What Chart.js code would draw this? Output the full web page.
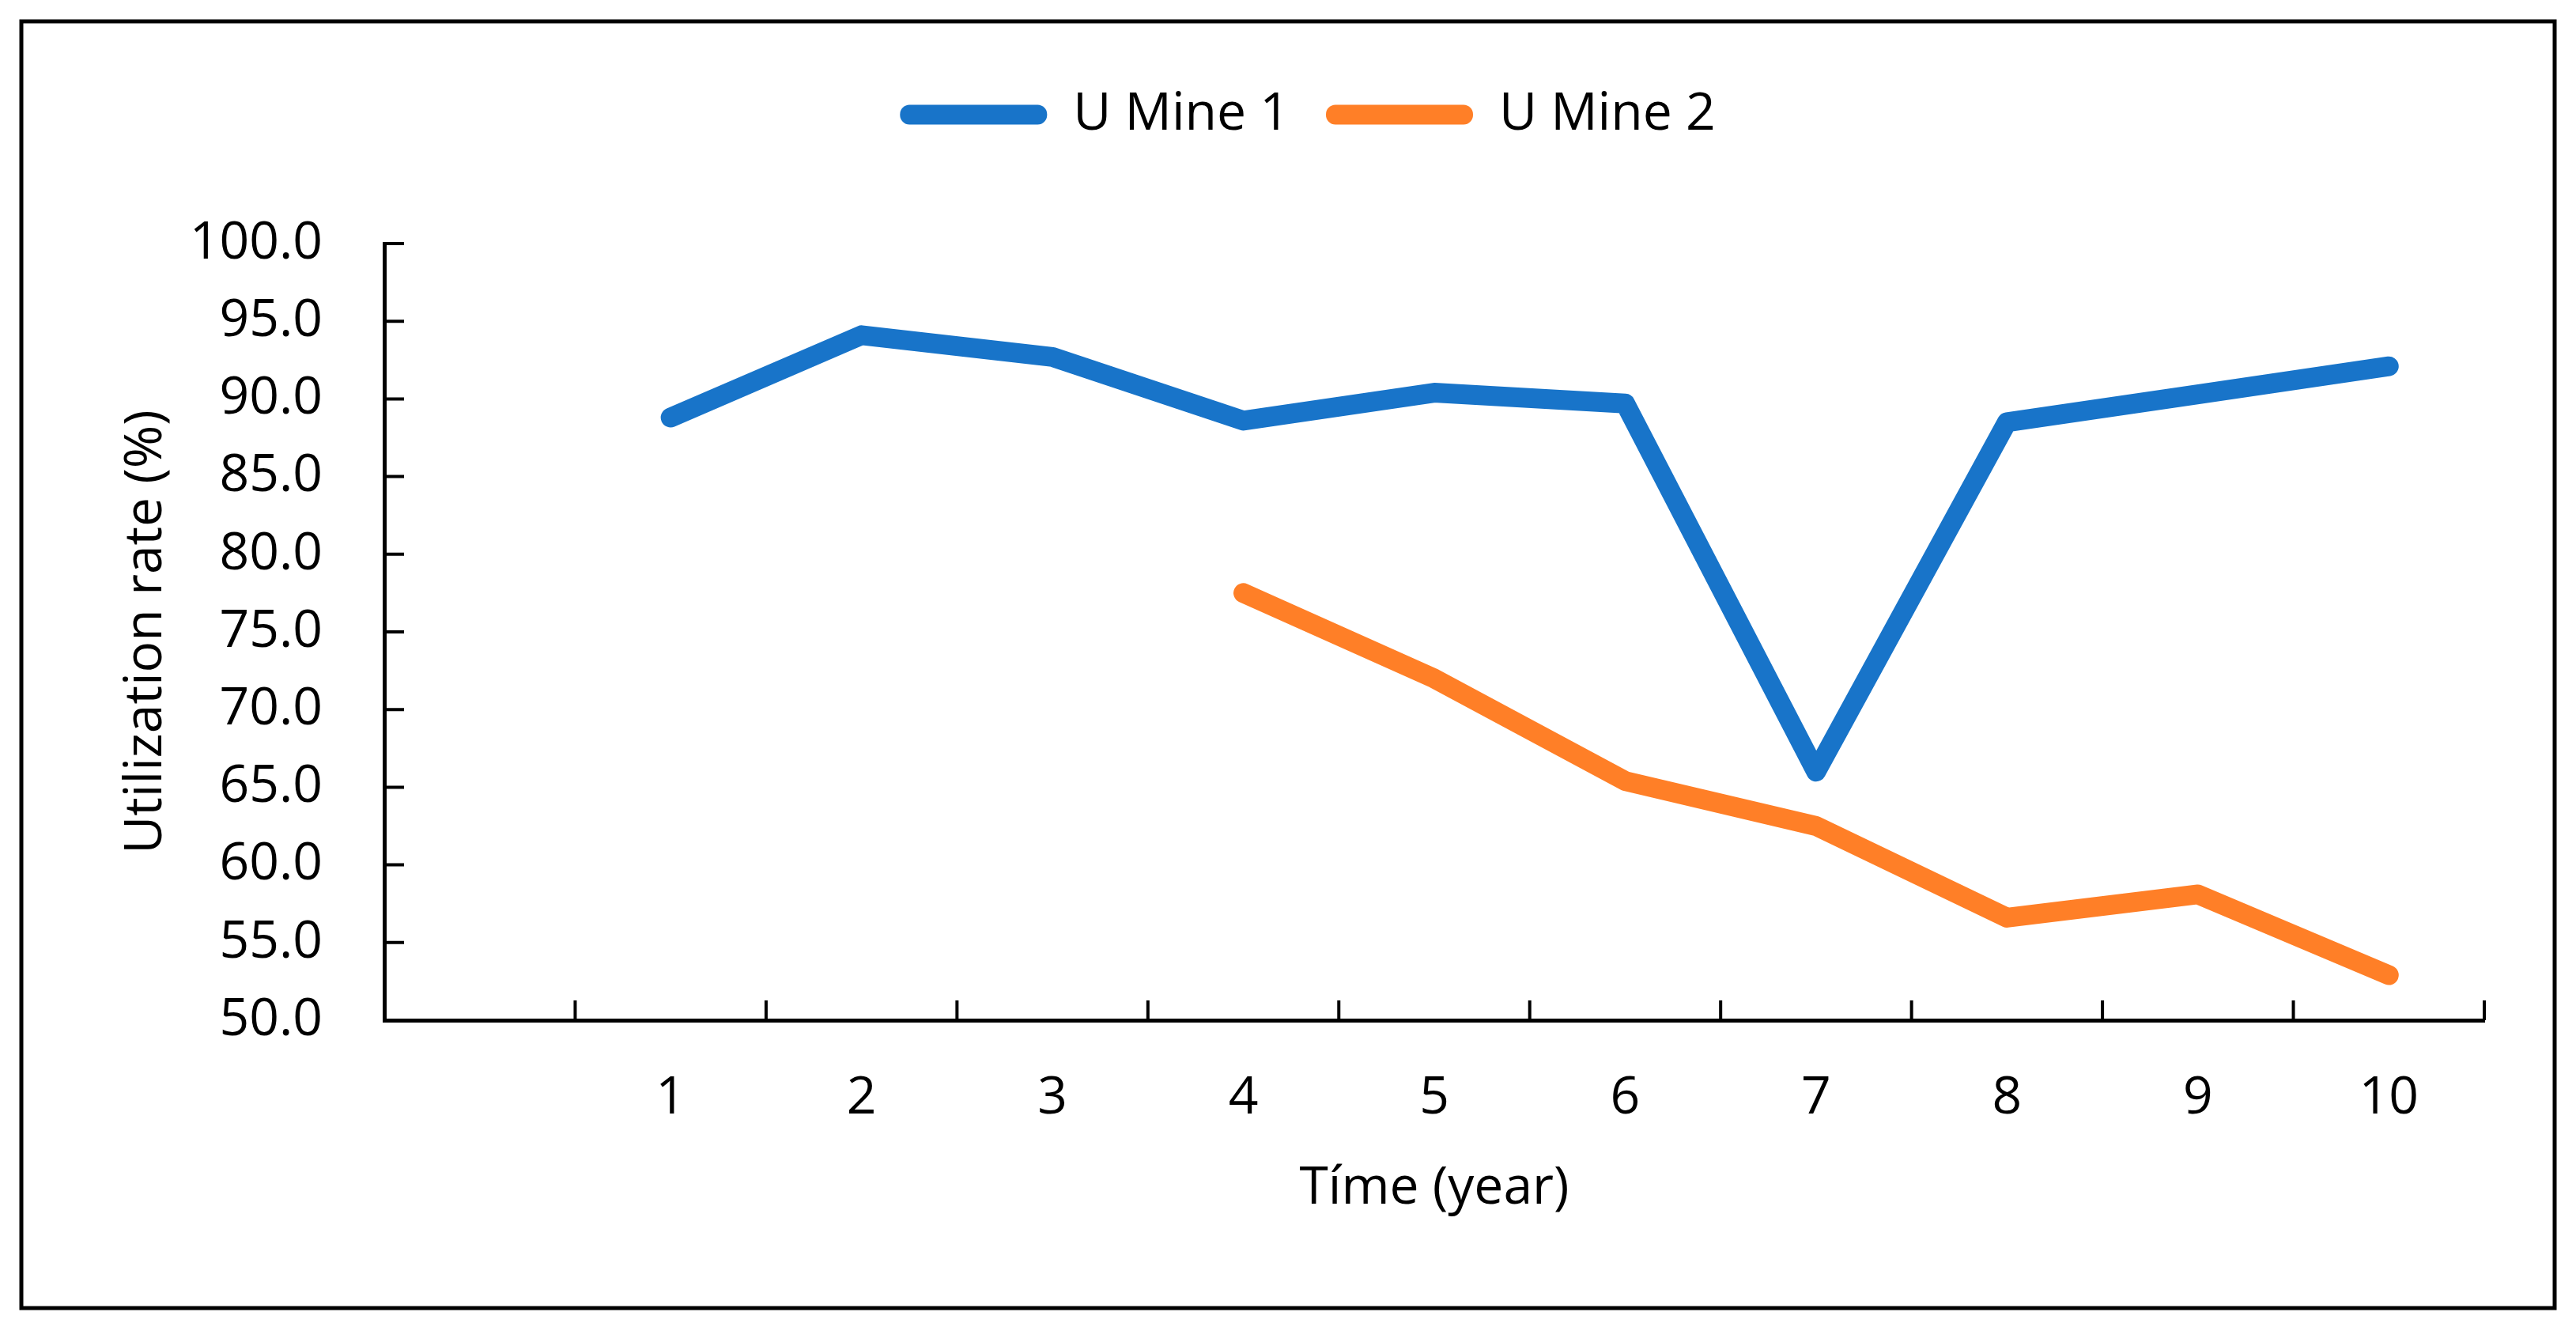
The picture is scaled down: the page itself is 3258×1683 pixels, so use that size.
<!DOCTYPE html>
<html>
<head>
<meta charset="utf-8">
<script src="https://cdn.jsdelivr.net/npm/chart.js@4.4.1/dist/chart.umd.min.js"></script>
<style>
  body { margin: 0; background: #fff; }
  canvas { display: block; }
</style>
</head>
<body>
<canvas id="chart-util" width="3258" height="1683"></canvas>
<script>
// first category is empty, like the original sheet
const years = ['', '1', '2', '3', '4', '5', '6', '7', '8', '9', '10']
const mine1 = [null, 88.8, 94.1, 92.7, 88.6, 90.4, 89.7, 66.0, 88.5, 90.3, 92.1]
const mine2 = [null, null, null, null, 77.5, 72.0, 65.4, 62.5, 56.6, 58.1, 52.9]
const yTicks = { min: 50, max: 100, step: 5 }

const fontName = "'Open Sans', 'Noto Sans', sans-serif"
Chart.defaults.color = '#000'
Chart.defaults.font.family = fontName

// inward tick marks + outer frame
const extras = {
    id : 'extras',
    beforeDraw : function(chart){
        const ctx = chart.ctx
        ctx.save()
        ctx.fillStyle = '#fff'
        ctx.fillRect(0, 0, chart.width, chart.height)
        ctx.strokeStyle = '#000'
        ctx.lineWidth = 5
        ctx.strokeRect(27, 27, chart.width - 54, chart.height - 56)
        ctx.restore()
    },
    afterDraw : function(chart){
        const ctx = chart.ctx
        const x = chart.scales.x
        const y = chart.scales.y
        ctx.save()
        ctx.strokeStyle = '#000'
        ctx.lineWidth = 4
        ctx.beginPath()
        for (let i = 0; i <= years.length; i++) {
            const px = x.getPixelForValue(i - 0.5)
            ctx.moveTo(px, x.top)
            ctx.lineTo(px, x.top - 25)
        }
        y.ticks.forEach(function(t){
            const py = y.getPixelForValue(t.value)
            ctx.moveTo(y.right, py)
            ctx.lineTo(y.right + 25, py)
        })
        ctx.stroke()
        ctx.restore()
    }
}

new Chart(document.getElementById('chart-util'), {
    type : 'line',
    data : {
        labels : years,
        datasets : [
            {
                label : 'U Mine 1',
                data : mine1,
                borderColor : '#1874c9',
                backgroundColor : '#1874c9',
                borderWidth : 25,
                borderCapStyle : 'round',
                borderJoinStyle : 'round',
                pointRadius : 0,
                tension : 0
            },
            {
                label : 'U Mine 2',
                data : mine2,
                borderColor : '#ff7f27',
                backgroundColor : '#ff7f27',
                borderWidth : 25,
                borderCapStyle : 'round',
                borderJoinStyle : 'round',
                pointRadius : 0,
                tension : 0
            }
        ]
    },
    options : {
        responsive : false,
        animation : false,
        devicePixelRatio : 1,
        layout : {
            padding : { left : 90, right : 40, top : 66, bottom : 40 }
        },
        plugins : {
            legend : {
                position : 'top',
                labels : {
                    boxWidth : 186,
                    boxHeight : 25,
                    useBorderRadius : true,
                    borderRadius : 12,
                    padding : 46,
                    font : { size : 66 },
                    generateLabels : function(chart){
                        const items = Chart.defaults.plugins.legend.labels.generateLabels(chart)
                        items.forEach(function(it){ it.lineWidth = 0 })
                        return items
                    }
                },
                onClick : function(e){
                    null
                }
            },
            // empty title used only as a gap between legend and plot
            title : {
                display : true,
                text : '',
                weight : 500,
                font : { size : 20 },
                padding : 48
            },
            tooltip : { enabled : false }
        },
        scales : {
            x : {
                type : 'category',
                offset : true,
                grid : { display : false, offset : true },
                border : { display : true, color : '#000', width : 5 },
                ticks : { font : { size : 66 }, padding : 52, maxRotation : 0, autoSkip : false },
                title : {
                    display : true,
                    text : 'Tíme (year)',
                    font : { size : 66 },
                    padding : { top : 0, bottom : 100 }
                },
                afterFit : function(scale){
                    scale.height = 353
                    scale.paddingRight = 116
                    scale.paddingLeft = 0
                }
            },
            y : {
                min : yTicks.min,
                max : yTicks.max,
                grid : { display : false },
                border : { display : true, color : '#000', width : 5 },
                ticks : {
                    stepSize : yTicks.step,
                    font : { size : 66 },
                    padding : 70,
                    callback : function(v){ return v.toFixed(1) }
                },
                title : {
                    display : true,
                    text : 'Utilization rate (%)',
                    font : { size : 66 },
                    padding : { top : 56, bottom : 0 }
                },
                afterFit : function(scale){
                    scale.width = 396
                }
            }
        }
    },
    plugins : [extras]
})
</script>
</body>
</html>
